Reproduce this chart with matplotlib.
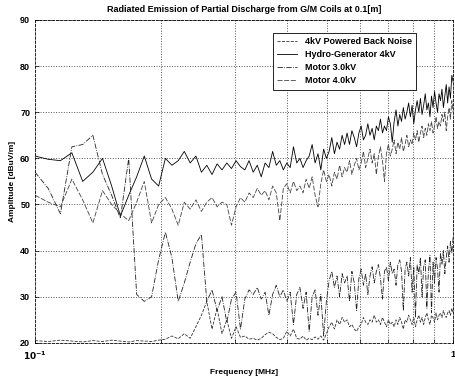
import numpy as np
import matplotlib
matplotlib.use("Agg")
import matplotlib.pyplot as plt
from matplotlib.ticker import FixedLocator, NullFormatter

plt.rcParams['font.family'] = ['Liberation Sans', 'DejaVu Sans']
plt.rcParams['font.weight'] = 'bold'

# sweep 0.1 .. 1.0 MHz, 121 points
freq = np.linspace(0.1, 1.0, 121)

back_noise = [
    20.5, 20.3, 20.6, 20.4, 20.2, 20.5, 20.3, 20.6, 20.4, 20.2,
    20.5, 20.4, 20.3, 20.6, 20.8, 21.5, 20.9, 22.0, 21.0, 23.5,
    26.0, 29.0, 23.0, 27.5, 22.0, 25.0, 21.0, 23.5, 21.2, 21.5,
    20.8, 21.0, 20.6, 21.0, 21.8, 22.3, 22.0, 21.2, 20.7, 21.0,
    22.5, 21.5, 23.0, 21.0, 20.8, 21.5, 20.6, 21.0, 20.7, 21.3,
    20.8, 21.5, 20.6, 22.0, 23.5, 24.5, 23.0, 25.0, 24.0, 25.5,
    24.5, 25.0, 23.5, 24.0, 23.0, 22.5, 23.5, 24.0, 25.5, 24.5,
    24.0, 25.0, 24.5, 26.0, 24.5, 25.0, 24.0, 25.5, 24.5, 23.5,
    25.0, 24.0, 24.5, 23.5, 25.0, 24.0, 25.5, 24.5, 23.0, 25.0,
    24.5, 26.0, 25.0, 24.0, 25.5, 23.5, 25.0, 26.0, 24.5, 25.5,
    24.0, 25.5, 26.5, 25.0, 24.0, 26.0, 25.5, 24.5, 26.5, 25.0,
    26.0, 26.5, 25.5, 27.0, 26.0, 25.5, 26.5, 27.0, 26.0, 27.5,
    26.5,
]

hydro_gen = [
    60.5, 59.8, 59.5, 61.2, 55.0, 57.0, 60.0, 54.0, 47.5, 52.0,
    56.0, 60.5, 55.5, 54.0, 60.0, 58.5, 59.5, 61.5, 59.0, 60.5,
    57.0, 58.5, 56.5, 58.8, 57.5, 59.0, 57.8, 59.5, 58.2, 57.5,
    59.5, 57.0, 58.5, 56.0, 59.0, 58.0, 61.5, 58.5, 59.5, 57.5,
    59.0, 58.0, 62.5, 59.0, 60.0, 58.0, 59.5, 60.5, 63.0, 59.0,
    61.0, 57.5, 62.0, 60.0, 61.5, 64.5, 61.0, 63.5, 62.0, 65.0,
    63.0, 65.5, 63.0, 66.0, 64.5, 62.5, 65.5, 67.0, 64.0, 65.0,
    67.5, 65.0, 66.5, 64.0, 67.0, 66.0, 68.5, 65.5, 67.0, 66.0,
    69.0, 67.5, 63.5, 68.0, 70.5, 67.0, 69.5, 68.0, 71.0, 68.5,
    70.0, 72.0, 69.0, 71.5, 67.5, 70.5, 72.5, 70.0, 73.0, 69.5,
    71.5, 74.0, 70.5, 72.0, 69.0, 73.5, 71.0, 74.5, 72.0, 70.0,
    74.0, 72.5, 75.0, 71.0, 73.5, 76.0, 72.0, 75.5, 73.0, 78.0,
    76.5,
]

motor_30 = [
    57.0, 53.5, 48.0, 62.5, 63.0, 65.0, 56.5, 52.0, 47.0, 60.0,
    30.5, 29.0, 30.0, 38.0, 44.0, 38.5, 29.0, 33.0, 37.5, 41.5,
    43.5, 29.0, 31.5, 27.0, 30.0, 24.5, 29.5, 31.0, 23.0, 29.5,
    31.5, 30.5, 32.0, 29.5, 31.0, 26.0, 30.5, 32.5, 30.0, 31.5,
    29.0, 31.0, 24.0, 30.5, 32.0, 27.5, 31.0, 22.5, 30.0, 31.5,
    26.0, 30.5, 21.5, 29.0, 33.5, 35.5, 32.0, 34.5, 30.0, 35.0,
    33.0, 34.5, 29.0, 35.5, 33.0, 27.0, 34.0, 36.0, 32.5, 35.0,
    30.5, 34.5, 36.5, 33.0, 35.5, 37.0, 34.0, 29.5, 35.5, 36.5,
    33.5, 37.5, 35.0, 36.0, 32.5, 37.0, 38.0, 35.5, 27.0, 36.0,
    37.5, 34.5, 38.5, 31.0, 36.5, 25.5, 37.0, 35.0, 38.5, 30.0,
    36.5, 38.0, 27.5, 35.5, 39.0, 26.5, 37.5, 33.0, 38.5, 36.0,
    31.0, 39.5, 37.0, 40.0, 35.0, 38.5, 41.0, 37.5, 42.0, 39.5,
    43.0,
]

motor_40 = [
    52.0, 50.5, 49.5, 55.5, 51.0, 46.0, 53.0, 50.0, 48.0, 46.5,
    50.5, 55.0, 46.0, 50.0, 51.5, 49.0, 45.5, 50.5, 49.0, 51.0,
    48.5, 50.5, 51.5, 49.5, 50.5, 50.0, 45.5, 49.5, 51.5, 50.5,
    52.5, 51.5, 53.5, 52.0, 53.0, 51.0, 54.0, 52.5, 46.5, 53.5,
    54.5, 52.5, 55.0, 53.0, 54.0, 52.5, 55.5, 53.5, 56.0, 52.0,
    49.5, 54.5, 57.5, 55.0, 56.5, 54.0, 57.0, 55.5, 58.5, 56.0,
    58.0, 57.0, 59.5, 56.5, 58.5, 60.0, 57.5, 59.0, 61.5, 58.0,
    60.0, 62.0, 59.0, 61.0, 56.5, 60.5, 62.5, 59.5, 55.0, 61.0,
    63.0, 60.5, 62.0, 64.0, 61.0, 63.5, 62.0, 64.5, 61.5, 63.0,
    65.0, 62.5, 64.0, 63.0, 65.5, 64.0, 66.0, 63.5, 65.5, 67.0,
    64.5, 66.5, 65.0, 67.5, 66.0, 68.0, 65.5, 67.0, 69.0, 66.5,
    68.0, 67.0, 69.5, 68.0, 70.0, 66.0, 69.0, 71.0, 68.5, 72.5,
    70.0,
]

series = [
    ("4kV Powered Back Noise", back_noise, "--", "#333333"),
    ("Hydro-Generator 4kV", hydro_gen, "-", "black"),
    ("Motor 3.0kV", motor_30, "-.", "#222222"),
    ("Motor 4.0kV", motor_40, (0, (6, 2)), "#444444"),
]

fig = plt.figure(figsize=(4.55, 3.76), dpi=100)
ax = fig.add_axes([0.077, 0.088, 0.919, 0.859])

for label, vals, ls, col in series:
    ax.plot(freq, vals, linestyle=ls, color=col, linewidth=0.6, label=label)

ax.set_xscale("log")
ax.set_xlim(0.1, 1.0)
ax.set_ylim(20, 90)
ax.set_yticks([20, 30, 40, 50, 60, 70, 80, 90])
ax.xaxis.set_major_locator(FixedLocator([0.1, 1.0]))
ax.set_xticklabels(["$\\mathbf{10^{-1}}$", "1"])
ax.xaxis.set_minor_locator(FixedLocator([0.2, 0.3, 0.4, 0.5, 0.6, 0.7, 0.8, 0.9]))
ax.xaxis.set_minor_formatter(NullFormatter())

ax.grid(True, which="major", axis="y", linestyle=":", color="#555555", linewidth=0.7)
ax.grid(True, which="minor", axis="x", linestyle=":", color="#555555", linewidth=0.7)
ax.tick_params(axis="both", which="both", direction="in", labelsize=6.5, length=3, width=0.5)
ax.tick_params(axis="x", which="major", pad=5)
for sp in ax.spines.values():
    sp.set_linewidth(0.6)
    sp.set_linestyle((0, (3, 2)))

ax.set_title("Radiated Emission of Partial Discharge from G/M Coils at 0.1[m]",
             fontsize=6.5, fontweight="bold", pad=6)
ax.set_xlabel("Frequency [MHz]", fontsize=6, fontweight="bold", labelpad=5)
ax.set_ylabel("Amplitude [dBuV/m]", fontsize=6, fontweight="bold", labelpad=3)

leg = ax.legend(loc="upper right", bbox_to_anchor=(0.922, 0.975), fontsize=6.5,
                frameon=True, fancybox=False, framealpha=1, edgecolor="black",
                handlelength=2.2, borderpad=0.5, labelspacing=0.45)
leg.get_frame().set_linewidth(0.6)
for t in leg.get_texts():
    t.set_fontweight("bold")

fig.savefig("out.png", dpi=100)
